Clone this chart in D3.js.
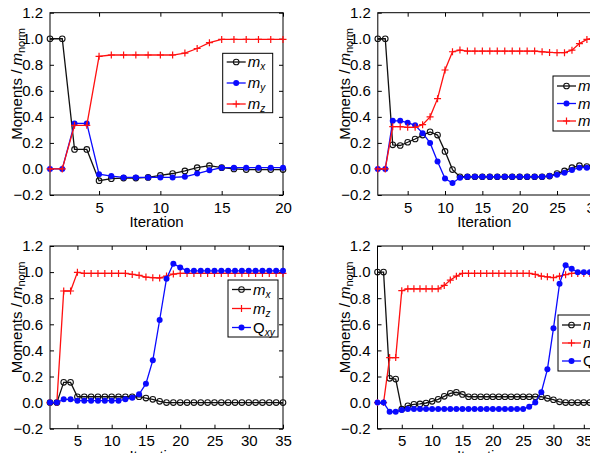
<!DOCTYPE html>
<html>
<head>
<meta charset="utf-8">
<script src="https://cdn.jsdelivr.net/npm/d3@7/dist/d3.min.js"></script>
<style>
  body { margin: 0; background: #fff; }
  svg text { font-family: "Liberation Sans", Arial, sans-serif; fill: #000; }
</style>
</head>
<body>
<div id="chart"></div>
<script>
const width = 590;
const height = 453;

// y ticks shared by all panels
const yTicks = [-0.2, 0, 0.2, 0.4, 0.6, 0.8, 1.0, 1.2];

// panel A (top left), iterations 1..20
const mxA = [1.0, 1.0, 0.15, 0.15, -0.09, -0.075, -0.07, -0.07, -0.065, -0.05, -0.035, -0.015, 0.01, 0.025, 0.01, 0.0, -0.005, -0.005, -0.005, -0.005];
const myA = [0, 0, 0.35, 0.35, -0.04, -0.055, -0.065, -0.065, -0.065, -0.065, -0.065, -0.06, -0.035, -0.01, 0.01, 0.01, 0.01, 0.01, 0.01, 0.01];
const mzA = [0, 0, 0.335, 0.335, 0.865, 0.875, 0.875, 0.875, 0.875, 0.875, 0.875, 0.89, 0.925, 0.97, 0.995, 0.995, 0.995, 0.995, 0.995, 0.995];

// panel B (top right), iterations 1..30
const mxB = [1.0, 1.0, 0.185, 0.18, 0.205, 0.23, 0.26, 0.285, 0.26, 0.135, -0.005, -0.06,
  -0.06, -0.06, -0.06, -0.06, -0.06, -0.06, -0.06, -0.06, -0.06, -0.06, -0.06, -0.055,
  -0.035, -0.015, 0.01, 0.025, 0.018, 0.005];
const myB = [0, 0, 0.37, 0.37, 0.355, 0.335, 0.275, 0.2, 0.057, -0.073, -0.108, -0.068,
  -0.06, -0.06, -0.06, -0.06, -0.06, -0.06, -0.06, -0.06, -0.06, -0.06, -0.06,
  -0.055, -0.045, -0.03, -0.008, 0.01, 0.01, 0.005];
const mzB = [0, 0, 0.325, 0.325, 0.32, 0.32, 0.34, 0.4, 0.54, 0.76, 0.9, 0.913,
  0.905, 0.905, 0.905, 0.905, 0.905, 0.905, 0.905, 0.905, 0.905, 0.905,
  0.9, 0.895, 0.893, 0.893, 0.912, 0.963, 0.995, 1.01];

// panel C (bottom left), iterations 1..35
const mxC = [0, 0, 0.155, 0.155, 0.045, 0.045, 0.045, 0.045, 0.045, 0.045, 0.045, 0.045, 0.045, 0.045,
  0.035, 0.025, 0.01, 0, 0, 0, 0, 0, 0, 0, 0, 0, 0, 0, 0, 0, 0, 0, 0, 0, 0];
const mzC = [0, 0, 0.855, 0.855, 0.998, 0.99, 0.99, 0.99, 0.99, 0.99, 0.99, 0.99,
  0.982, 0.975, 0.962, 0.957, 0.955, 0.97, 0.985, 0.99,
  0.99, 0.99, 0.99, 0.99, 0.99, 0.99, 0.99, 0.99, 0.99, 0.99, 0.99, 0.99, 0.99, 0.99, 0.99];
const qC = [0, 0, 0.025, 0.025, 0.015, 0.015, 0.015, 0.015, 0.015, 0.015, 0.015, 0.025, 0.038, 0.064,
  0.145, 0.324, 0.633, 0.95, 1.064, 1.036,
  1.01, 1.01, 1.01, 1.01, 1.01, 1.01, 1.01, 1.01, 1.01, 1.01, 1.01, 1.01, 1.01, 1.01, 1.01];

// panel D (bottom right), iterations 1..36
const mxD = [1.0, 1.0, 0.186, 0.18, -0.05, -0.024, -0.013, -0.01, -0.003, 0.01, 0.025, 0.048, 0.071, 0.079, 0.063,
  0.045, 0.045, 0.045, 0.045, 0.045, 0.045, 0.045, 0.045, 0.045, 0.045, 0.045, 0.045, 0.045,
  0.033, 0.022, 0.006, 0, 0, 0, 0, 0];
const mzD = [0, 0, 0.345, 0.345, 0.858, 0.872, 0.872, 0.872, 0.872, 0.872, 0.872, 0.898, 0.939, 0.969,
  0.99, 0.99, 0.99, 0.99, 0.99, 0.99, 0.99, 0.99, 0.99, 0.99, 0.99, 0.99,
  0.982, 0.969, 0.964, 0.957, 0.969, 0.98, 0.99, 0.99, 0.99, 0.99];
const qD = [0, 0, -0.07, -0.07, -0.057, -0.049, -0.049, -0.049, -0.049, -0.049, -0.049, -0.049, -0.049, -0.049,
  -0.049, -0.049, -0.049, -0.049, -0.049, -0.049, -0.049, -0.049, -0.049, -0.049, -0.049,
  -0.031, 0.0, 0.079, 0.255, 0.569, 0.91, 1.053, 1.026, 0.998, 0.998, 0.998];

const xTicksA = [5, 10, 15, 20];
const xTicksLong = [5, 10, 15, 20, 25, 30, 35];

const BLACK = '#111', BLUE = '#0a0aff', RED = '#ff1010';

const panels = [
  { x0: 50, y0: 12.7, w: 233, h: 182.3, xmax: 20, ticks: xTicksA,
    series: [
      { name: 'm', sub: 'x', values: mxA, color: BLACK, marker: 'o' },
      { name: 'm', sub: 'y', values: myA, color: BLUE, marker: 'dot' },
      { name: 'm', sub: 'z', values: mzA, color: RED, marker: '+' }],
    legend: { x: 222.7, y: 53.3, w: 50, h: 59.4, step: 21 } },
  { x0: 377.8, y0: 12.7, w: 233, h: 182.3, xmax: 32.2, ticks: xTicksLong,
    series: [
      { name: 'm', sub: 'x', values: mxB, color: BLACK, marker: 'o' },
      { name: 'm', sub: 'y', values: myB, color: BLUE, marker: 'dot' },
      { name: 'm', sub: 'z', values: mzB, color: RED, marker: '+' }],
    legend: { x: 553, y: 76, w: 50, h: 55, step: 17.5 } },
  { x0: 50, y0: 246, w: 233, h: 182.7, xmax: 35, ticks: xTicksLong,
    series: [
      { name: 'm', sub: 'x', values: mxC, color: BLACK, marker: 'o' },
      { name: 'm', sub: 'z', values: mzC, color: RED, marker: '+' },
      { name: 'Q', sub: 'xy', values: qC, color: BLUE, marker: 'dot', upright: true }],
    legend: { x: 228, y: 280, w: 50, h: 57, step: 19 } },
  { x0: 377.5, y0: 246, w: 233, h: 182.7, xmax: 39.4, ticks: xTicksLong,
    series: [
      { name: 'm', sub: 'x', values: mxD, color: BLACK, marker: 'o' },
      { name: 'm', sub: 'z', values: mzD, color: RED, marker: '+' },
      { name: 'Q', sub: 'xy', values: qD, color: BLUE, marker: 'dot', upright: true }],
    legend: { x: 558, y: 315, w: 55, h: 56, step: 18 } }
];

const svg = d3.select('#chart').append('svg')
  .attr('width', width)
  .attr('height', height);

function drawMarker(g, cx, cy, s) {
  if (s.marker === 'o') {
    g.append('circle').attr('cx', cx).attr('cy', cy).attr('r', 2.8)
      .attr('fill', 'none').attr('stroke', s.color).attr('stroke-width', 1.1);
  } else if (s.marker === 'dot') {
    g.append('circle').attr('cx', cx).attr('cy', cy).attr('r', 3)
      .attr('fill', s.color);
  } else {
    g.append('path').attr('d', `M${cx - 3.5},${cy}H${cx + 3.5}M${cx},${cy - 3.5}V${cy + 3.5}`)
      .attr('stroke', s.color).attr('stroke-width', 1.2);
  }
}

function drawPanel(p) {
  const x = d3.scaleLinear().domain([1, p.xmax]).range([p.x0, p.x0 + p.w]);
  const y = d3.scaleLinear().domain([-0.2, 1.2]).range([p.y0 + p.h, p.y0]);
  const g = svg.append('g');

  // axes with inward ticks, mirrored on top and right like matlab
  const fmt = d3.format('.1f');
  const bottom = g.append('g').attr('transform', `translate(0,${p.y0 + p.h})`)
    .call(d3.axisBottom(x).tickValues(p.ticks).tickSize(-4).tickPadding(7));
  const top = g.append('g').attr('transform', `translate(0,${p.y0})`)
    .call(d3.axisTop(x).tickValues(p.ticks).tickSize(-4).tickFormat(''));
  const left = g.append('g').attr('transform', `translate(${p.x0},0)`)
    .call(d3.axisLeft(y).tickValues(yTicks).tickSize(-4).tickPadding(7).tickFormat(fmt));
  const right = g.append('g').attr('transform', `translate(${p.x0 + p.w},0)`)
    .call(d3.axisRight(y).tickValues(yTicks).tickSize(-4).tickFormat(''));
  [bottom, top, left, right].forEach(a => {
    a.select('.domain').remove();
    a.selectAll('line').attr('stroke', '#000');
    a.selectAll('text').attr('font-size', 15).attr('font-family', null);
  });
  g.append('rect').attr('x', p.x0).attr('y', p.y0).attr('width', p.w).attr('height', p.h)
    .attr('fill', 'none').attr('stroke', '#000').attr('stroke-width', 1);

  // series
  const line = d3.line().x((d, i) => x(i + 1)).y(d => y(d));
  p.series.forEach(s => {
    g.append('path').datum(s.values).attr('d', line)
      .attr('fill', 'none').attr('stroke', s.color).attr('stroke-width', 1.3);
    const mg = g.append('g');
    s.values.forEach((v, i) => drawMarker(mg, x(i + 1), y(v), s));
  });

  // axis labels
  g.append('text').attr('x', p.x0 + p.w / 2 - 10).attr('y', p.y0 + p.h + 32)
    .attr('text-anchor', 'middle').attr('font-size', 15).text('Iteration');
  const yl = g.append('text')
    .attr('transform', `translate(${p.x0 - 28},${p.y0 + p.h / 2 - 20}) rotate(-90)`)
    .attr('text-anchor', 'middle').attr('font-size', 15);
  yl.append('tspan').text('Moments / ');
  yl.append('tspan').attr('font-style', 'italic').text('m');
  yl.append('tspan').attr('font-size', 11).attr('dy', 3).text('norm');

  // legend
  const L = p.legend;
  const lg = g.append('g');
  lg.append('rect').attr('x', L.x).attr('y', L.y).attr('width', L.w).attr('height', L.h)
    .attr('fill', '#fff').attr('stroke', '#000').attr('stroke-width', 1);
  p.series.forEach((s, i) => {
    const cy = L.y + L.h / 2 + (i - 1) * L.step;
    lg.append('line').attr('x1', L.x + 4).attr('x2', L.x + 23).attr('y1', cy).attr('y2', cy)
      .attr('stroke', s.color).attr('stroke-width', 1.3);
    drawMarker(lg, L.x + 13.5, cy, s);
    const t = lg.append('text').attr('x', L.x + 25).attr('y', cy + 5).attr('font-size', 15);
    t.append('tspan').attr('font-style', s.upright ? null : 'italic').text(s.name);
    t.append('tspan').attr('font-style', 'italic').attr('font-size', 10).attr('dy', 3).text(s.sub);
  });
}

panels.forEach(drawPanel);
</script>
</body>
</html>
